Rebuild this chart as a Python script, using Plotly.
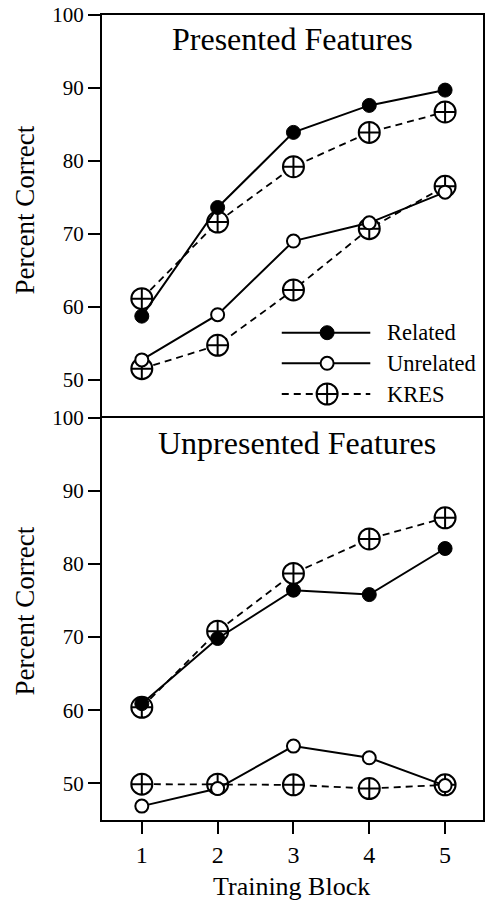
import plotly.graph_objects as go

blocks = [1, 2, 3, 4, 5]

# Presented Features panel
pres_related = [58.7, 73.6, 83.9, 87.6, 89.7]
pres_unrelated = [52.7, 58.9, 69.0, 71.5, 75.7]
pres_kres_related = [61.1, 71.6, 79.2, 83.9, 86.7]
pres_kres_unrelated = [51.5, 54.7, 62.3, 70.7, 76.5]

# Unpresented Features panel
unpr_related = [60.9, 69.8, 76.4, 75.8, 82.1]
unpr_unrelated = [46.9, 49.3, 55.1, 53.5, 49.7]
unpr_kres_related = [60.4, 70.8, 78.7, 83.4, 86.3]
unpr_kres_unrelated = [49.9, 49.9, 49.8, 49.3, 49.8]

y_ticks = [50, 60, 70, 80, 90, 100]
x_ticks = [1, 2, 3, 4, 5]
legend_names = ["Related", "Unrelated", "KRES"]

FONT = "Liberation Serif"
W, H = 487, 902
ML, MR, MT, MB = 102, 2, 15, 82
PW = W - ML - MR
PH = H - MT - MB
SPLIT = 0.5
TOP_BOTTOM_PX = MT + PH * (1 - SPLIT)
TOP_H = PH * (1 - SPLIT)

def px_x(x):
    return (x - ML) / PW

def px_y(y):
    return (H - MB - y) / PH

def px_y_top(y):
    # position inside the top-panel overlay axis (range 0..1)
    return (TOP_BOTTOM_PX - y) / TOP_H

fig = go.Figure()

kres_marker = dict(symbol="circle-cross", size=21, color="white",
                   line=dict(color="black", width=2))
rel_marker = dict(symbol="circle", size=14, color="black",
                  line=dict(color="black", width=1))
unrel_marker = dict(symbol="circle", size=13, color="white",
                    line=dict(color="black", width=2))
solid = dict(color="black", width=2)
dashed = dict(color="black", width=1.8, dash="7px,5px")

def add_panel(xa, ya, rel, unrel, krel, kunrel):
    for vals in (krel, kunrel):
        fig.add_trace(go.Scatter(x=blocks, y=vals, mode="lines+markers",
                                 line=dashed, marker=kres_marker,
                                 xaxis=xa, yaxis=ya, showlegend=False,
                                 cliponaxis=False))
    fig.add_trace(go.Scatter(x=blocks, y=rel, mode="lines+markers",
                             line=solid, marker=rel_marker,
                             xaxis=xa, yaxis=ya, showlegend=False,
                             cliponaxis=False))
    fig.add_trace(go.Scatter(x=blocks, y=unrel, mode="lines+markers",
                             line=solid, marker=unrel_marker,
                             xaxis=xa, yaxis=ya, showlegend=False,
                             cliponaxis=False))

add_panel("x", "y", pres_related, pres_unrelated, pres_kres_related, pres_kres_unrelated)
add_panel("x2", "y2", unpr_related, unpr_unrelated, unpr_kres_related, unpr_kres_unrelated)

# Manual legend on a hidden overlay axis (pixel-mapped to the top panel)
leg_rows = [332.7, 363.3, 394.0]
lx0, lxm, lx1 = 282.7, 328.3, 371.7
leg_styles = [(solid, rel_marker), (solid, unrel_marker), (dashed, kres_marker)]
for (ln, mk), yy, name in zip(leg_styles, leg_rows, legend_names):
    fig.add_trace(go.Scatter(x=[px_x(lx0), px_x(lx1)], y=[px_y_top(yy), px_y_top(yy)],
                             mode="lines", line=ln, xaxis="x3", yaxis="y3",
                             showlegend=False, hoverinfo="skip"))
    fig.add_trace(go.Scatter(x=[px_x(lxm)], y=[px_y_top(yy)], mode="markers",
                             marker=mk, xaxis="x3", yaxis="y3",
                             showlegend=False, hoverinfo="skip"))
    fig.add_annotation(text=name, xref="paper", yref="paper",
                       x=px_x(386), y=px_y(yy), xanchor="left", yanchor="middle",
                       showarrow=False, font=dict(family=FONT, size=22.5, color="black"))

axis_common = dict(showline=True, linecolor="black", linewidth=2, mirror=True,
                   showgrid=False, zeroline=False)

fig.update_layout(
    width=W, height=H,
    margin=dict(l=ML, r=MR, t=MT, b=MB),
    paper_bgcolor="white", plot_bgcolor="white",
    font=dict(family=FONT, color="black"),
    xaxis=dict(domain=[0, 1], range=[0.475, 5.5], anchor="y", showticklabels=False,
               ticks="", side="top", showline=True, linecolor="black", linewidth=2,
               mirror=False, showgrid=False, zeroline=False),
    yaxis=dict(domain=[SPLIT, 1], range=[44.8, 100], anchor="x", tickvals=y_ticks,
               ticks="outside", ticklen=12, tickwidth=2, tickcolor="black",
               tickfont=dict(family=FONT, size=21, color="black"), **axis_common),
    xaxis2=dict(domain=[0, 1], range=[0.475, 5.5], anchor="y2", tickvals=x_ticks,
                ticks="outside", ticklen=12, tickwidth=2, tickcolor="black",
                tickfont=dict(family=FONT, size=24, color="black"), **axis_common),
    yaxis2=dict(domain=[0, SPLIT], range=[45, 100], anchor="x2", tickvals=y_ticks,
                ticks="outside", ticklen=12, tickwidth=2, tickcolor="black",
                tickfont=dict(family=FONT, size=21, color="black"), **axis_common),
    xaxis3=dict(range=[0, 1], anchor="y3", visible=False, overlaying="x"),
    yaxis3=dict(range=[0, 1], anchor="x3", visible=False, overlaying="y"),
    showlegend=False,
)

ann_font = dict(family=FONT, color="black")
fig.add_annotation(text="Presented Features", xref="paper", yref="paper",
                   x=px_x(293.5), y=px_y(39), xanchor="center", yanchor="middle",
                   showarrow=False, font=dict(size=32, **ann_font))
fig.add_annotation(text="Unpresented Features", xref="paper", yref="paper",
                   x=px_x(298.5), y=px_y(443), xanchor="center", yanchor="middle",
                   showarrow=False, font=dict(size=32, **ann_font))
fig.add_annotation(text="Percent Correct", xref="paper", yref="paper",
                   x=px_x(25), y=px_y(210), xanchor="center", yanchor="middle",
                   textangle=-90, showarrow=False, font=dict(size=27, **ann_font))
fig.add_annotation(text="Percent Correct", xref="paper", yref="paper",
                   x=px_x(25), y=px_y(611), xanchor="center", yanchor="middle",
                   textangle=-90, showarrow=False, font=dict(size=27, **ann_font))
fig.add_annotation(text="Training Block", xref="paper", yref="paper",
                   x=px_x(292.5), y=px_y(886), xanchor="center", yanchor="middle",
                   showarrow=False, font=dict(size=26, **ann_font))

fig.write_html("out.html")
